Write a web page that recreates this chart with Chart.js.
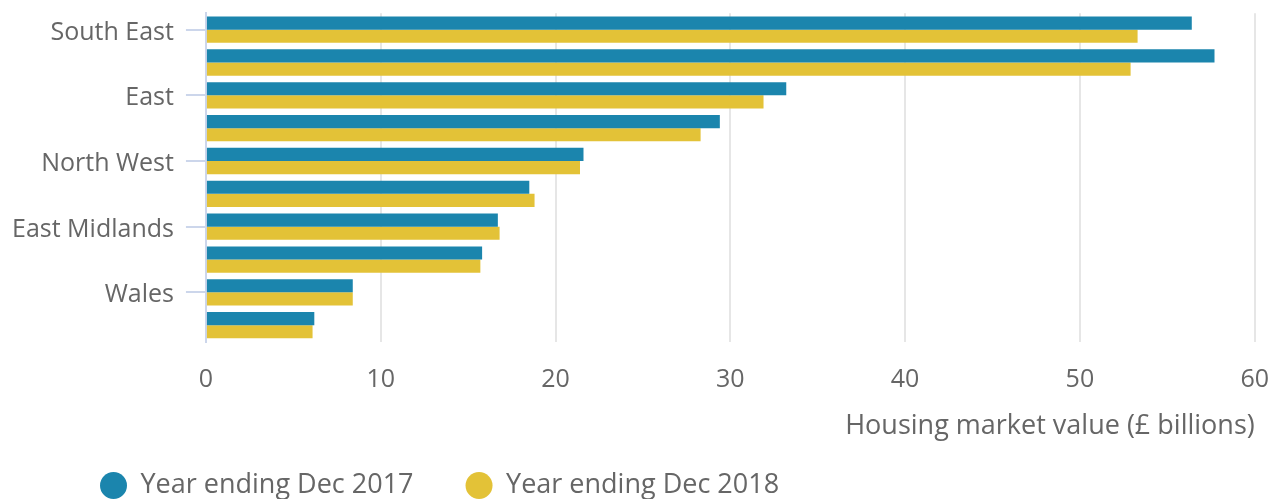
<!DOCTYPE html>
<html>
<head>
<meta charset="utf-8">
<title>Housing market value by region</title>
<script src="https://cdn.jsdelivr.net/npm/chart.js@4/dist/chart.umd.min.js"></script>
<style>
  html, body { margin: 0; padding: 0; overflow: hidden; background: #fff; }
  #wrap { position: relative; width: 1269px; height: 532px; }
</style>
</head>
<body>
<div id="wrap"><canvas id="valueChart"></canvas></div>
<script>
// regions, sorted as in the source (largest 2018 value first)
var regions = ['South East', 'London', 'East', 'South West', 'North West',
               'West Midlands', 'East Midlands', 'Yorkshire and The Humber', 'Wales', 'North East'];
// housing market value, £ billions
var value2017 = [56.4, 57.7, 33.2, 29.4, 21.6, 18.5, 16.7, 15.8, 8.4, 6.2];
var value2018 = [53.3, 52.9, 31.9, 28.3, 21.4, 18.8, 16.8, 15.7, 8.4, 6.1];
var seriesNames = ['Year ending Dec 2017', 'Year ending Dec 2018'];
var axisTitle = 'Housing market value (£ billions)';

var textGrey = '#666666';
var family = "'Open Sans', sans-serif";

// nudge the legend to where the original puts it
var legendShift = {
    id: 'legendShift',
    afterLayout: function(chart) {
        chart.legend.left += 48;
        chart.legend.right += 48;
        chart.legend.top -= 23;
        chart.legend.bottom -= 23;
    }
};

var ctx = document.getElementById('valueChart').getContext('2d');
var chart = new Chart(ctx, {
    type: 'bar',
    data: {
        labels: regions,
        datasets: [
            {
                label: seriesNames[0],
                data: value2017,
                backgroundColor: '#1b85ad',
                borderWidth: 0,
                categoryPercentage: 0.8,
                barPercentage: 1.0
            },
            {
                label: seriesNames[1],
                data: value2018,
                backgroundColor: '#e3c237',
                borderWidth: 0,
                categoryPercentage: 0.8,
                barPercentage: 1.0
            }
        ]
    },
    plugins: [legendShift],
    options: {
        indexAxis: 'y',
        responsive: true,
        maintainAspectRatio: false,
        animation: false,
        layout: { padding: { top: 13, left: 0, right: 13, bottom: 0 } },
        scales: {
            x: {
                min: 0,
                max: 60,
                ticks: { stepSize: 10, color: textGrey, font: { family: family, size: 25 }, padding: 0 },
                grid: {
                    drawTicks: true,
                    tickLength: 23,
                    tickColor: 'rgba(0,0,0,0)',
                    lineWidth: 2,
                    color: function(c) { return c.tick && c.tick.value === 0 ? 'rgba(0,0,0,0)' : '#e6e6e6'; }
                },
                border: { display: false },
                title: {
                    display: true,
                    text: axisTitle,
                    align: 'end',
                    color: textGrey,
                    font: { family: family, size: 27 },
                    padding: { top: 16, bottom: 0 }
                }
            },
            y: {
                ticks: {
                    color: textGrey,
                    font: { family: family, size: 25, lineHeight: 0.1 },
                    padding: 12,
                    labelOffset: 3,
                    autoSkip: false,
                    callback: function(value, index) {
                        return index % 2 === 0 ? this.getLabelForValue(value) : null;
                    }
                },
                grid: {
                    drawOnChartArea: false,
                    drawTicks: true,
                    tickLength: 20,
                    offset: false,
                    color: '#ccd6eb',
                    lineWidth: 2
                },
                border: { display: true, color: '#ccd6eb', width: 2 }
            }
        },
        plugins: {
            legend: {
                position: 'bottom',
                align: 'start',
                labels: {
                    usePointStyle: true,
                    pointStyle: 'circle',
                    boxHeight: 19,
                    pointStyleWidth: 27,
                    padding: 52,
                    color: textGrey,
                    font: { family: family, size: 27 }
                }
            },
            tooltip: { enabled: false }
        }
    }
});
</script>
</body>
</html>
